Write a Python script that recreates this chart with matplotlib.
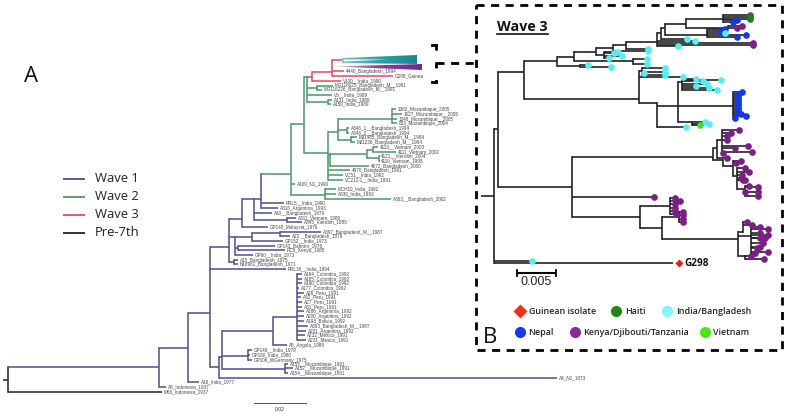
import numpy as np
import matplotlib
matplotlib.use("Agg")
import matplotlib.pyplot as plt
from matplotlib.colors import LinearSegmentedColormap
from matplotlib.patches import Polygon


def tip(x, y, label):
    return (x, y, label, [], None)


def node(x, y, kids, wave=None):
    return (x, y, None, kids, wave)


# ---------- Colours ----------
WAVE_COLOURS = {"w1": "#4b4f90", "w2": "#469a66", "w3": "#e8475c", "pre": "#222222"}
DOT_COLOURS = {"c": "#55eef5", "b": "#1238ea", "p": "#7b1f87", "l": "#45e016", "h": "#1f7d20"}

# ---------- Panel A : tips and clades (x = distance, y = leaf row) ----------
GREEN_TOP = node(307, 77, [
    node(312, 77, [
        node(332, 72, [
            tip(342, 60, None),
            tip(332, 67, None),
            tip(344, 71, "4440_Bangladesh_1994"),
            tip(393, 76, "G298_Guinea"),
        ], "w3"),
        tip(341, 81, "V100__India_1990"),
    ], "w3"),
    node(317, 88, [
        tip(333, 86, "MG116025_Bangladesh_M__1991"),
        tip(322, 90, "MG116226_Bangladesh_M__1991"),
    ]),
    tip(332, 95, "V5__India_1989"),
    node(328, 102, [
        tip(332, 100, "A131_India_1989"),
        tip(331, 104, "A150_India_1989"),
    ]),
])

MOZ_CLADE = node(392, 119, [
    tip(396, 109, "1362_Mozambique_2005"),
    tip(402, 114, "1627_Mozambique__2005"),
    tip(397, 119, "1348_Mozambique__2005"),
    tip(397, 123, "833_Mozambique_2004"),
])

GREEN_MID = node(327.5, 153, [
    node(338, 132, [
        MOZ_CLADE,
        node(347, 130, [
            tip(349, 128, "A346_1__Bangladesh_1994"),
            tip(349, 133, "A346_2__Bangladesh_1994"),
        ]),
        node(351, 140, [
            tip(357, 137, "MJ1485_Bangladesh_M__1994"),
            tip(355, 142, "MJ1236_Bangladesh_M__1994"),
        ]),
    ]),
    node(330, 155, [
        node(367, 154, [
            node(373, 150, [
                tip(378, 147, "4113__Vietnam_2003"),
                tip(396, 152, "4111_Vietnam_2002"),
            ]),
            node(379, 158, [
                tip(379.5, 156, "4121__Vietnam_2004"),
                tip(379.5, 161, "4110_Vietnam_1995"),
            ]),
        ]),
        tip(369, 166, "4672_Bangladesh_2000"),
    ]),
    tip(350, 170, "4970_Bangladesh_1991"),
    tip(343, 175, "VC51__India_1992"),
    tip(343, 180, "VC212-1__India_1991"),
])

WAVE2 = node(291, 174, [
    node(304, 124, [GREEN_TOP, GREEN_MID]),
    tip(295, 184, "A109_N1_1990"),
    node(325, 195, [
        tip(336, 189, "MCH10_India_1992"),
        tip(336, 194, "A330_India_1993"),
        tip(391, 199, "A363__Bangladesh_2002"),
    ]),
], "w2")

EARLY_ASIA = node(241.5, 219, [
    node(254, 199, [
        node(261, 199, [
            WAVE2,
            tip(284, 203, "PRL5__India_1990"),
            tip(278, 208, "A316_Argentina_1993"),
        ]),
        tip(272, 213, "A10__Bangladesh_1979"),
        node(287, 220, [
            tip(296, 218, "A311_Vietnam_1989"),
            tip(302, 222, "A345_Vietnam_1989"),
        ]),
    ]),
    tip(268, 227, "GP140_Malaysia_1976"),
])

SEVENTIES = node(235, 237, [
    node(252, 237, [
        node(280, 233, [
            tip(321, 232, "A397_Bangladesh_M__1987"),
            tip(290, 236, "A22__Bangladesh_1979"),
        ]),
        tip(283, 241, "GP152__India_1973"),
    ]),
    node(238, 248, [
        tip(275, 246, "GP143_Bahrain_1976"),
        tip(285, 250, "RC9_Kenya_1985"),
    ]),
    tip(253, 255, "GP60__India_1973"),
])

LATIN_TIPS = [
    (302, 274, "A194_Colombia_1992"), (302, 279, "A185_Colombia_1992"),
    (302, 283, "A190_Colombia_1992"), (299, 288, "A177_Colombia_1992"),
    (304, 293, "A26_Peru_1991"), (301, 297, "A32_Peru_1991"),
    (302, 302, "A27_Peru_1991"), (302, 307, "A31_Peru_1991"),
    (304, 311, "A186_Argentina_1992"), (304, 316, "A200_Argentina_1992"),
    (304, 321, "A193_Bolivia_1992"), (308, 326, "A393_Bangladesh_M__1987"),
    (306, 331, "A201_Argentina_1992"), (305, 335, "A232_Mexico_1991"),
    (306, 340, "A231_Mexico_1991"),
]

LOWER = node(222, 357, [
    node(273, 331, [
        node(297, 317, [tip(*t) for t in LATIN_TIPS]),
        tip(287, 345, "A5_Angola_1989"),
    ]),
    node(248, 356, [
        tip(252, 350, "GP149__India_1979"),
        tip(250, 355, "GP160_India_1980"),
        tip(252, 360, "GP106_WGermany_1975"),
    ]),
    node(285, 369, [
        tip(288, 364, "A155__Mozambique_1991"),
        tip(293, 368, "A152__Mozambique_1991"),
        tip(288, 373, "A154__Mozambique_1991"),
    ]),
])

WAVE1 = node(210, 313, [
    node(229, 247, [
        EARLY_ASIA,
        SEVENTIES,
        node(234, 262, [
            tip(238, 260, "A15_Bangladesh_1975"),
            tip(238, 264, "N16961_Bangladesh_1971"),
        ]),
    ]),
    tip(286, 269, "PRL16__India_1994"),
    node(219, 367, [
        LOWER,
        tip(557, 378, "A4_N1_1973"),
    ]),
], "w1")

TREE_A = node(8, 380, [
    node(159, 367, [
        node(187.5, 348, [
            WAVE1,
            tip(199, 382, "A16_India_1977"),
        ], "w1"),
        tip(166, 387, "A5_Indonesia_1937"),
    ], "w1"),
    tip(162, 392, "M66_Indonesia_1937"),
], "pre")

LEGEND_LABELS = ["Wave 1", "Wave 2", "Wave 3", "Pre-7th"]
LEGEND_KEYS = ["w1", "w2", "w3", "pre"]
LEGEND_ROWS = [179, 197, 215, 233]

# collapsed clades
TEAL_WEDGE = [(342, 58), (417, 55), (417, 64), (342, 63)]
TEAL_HOLLOW = [(343.5, 59.5), (388, 59.5), (343.5, 61.5)]
PURPLE_WEDGE = [(333, 66.5), (422, 64), (422, 70)]

# ---------- Panel B clades ----------
TOP_B = node(657, 42, [
    node(661, 33, [
        node(665, 28, [
            node(682, 24, [
                node(686, 24, [
                    node(723, 19, [
                        tip(750, 17, "h"),
                        tip(750, 15, "h"),
                        tip(750, 19, "h"),
                        tip(737, 20, "b"),
                        tip(733, 22, "b"),
                    ]),
                    node(728, 28, [tip(742, 26, "p"), tip(737, 28, "p")]),
                ]),
            ]),
            node(707, 35, [
                tip(720, 31, "b"), tip(725, 29, "b"), tip(725, 33, "c"),
                tip(737, 37, "b"), tip(746, 35, "b"),
            ]),
        ]),
        tip(687, 39, "c"),
    ]),
    tip(695, 41, "c"),
    tip(753, 43, "p"),
    tip(753, 45, "p"),
    tip(678, 46, "c"),
])

CYAN_STEP = node(596, 52, [
    node(613, 48, [
        node(626, 45, [TOP_B, tip(648, 49, "c")]),
        tip(648, 51, "c"),
    ]),
    node(604, 55, [tip(609, 58, "c"), tip(614, 53, "c"),
                   tip(618, 52, "c"), tip(622, 56, "c")]),
])

BLUE_ROWS = [92, 94, 96, 98, 100, 102, 104, 106, 108, 110, 112, 114, 116, 118]
BLUE_X = [742, 738, 738, 738, 738, 738, 738, 738, 738, 738, 738, 741, 746, 735]

MID_B = node(678, 106, [
    node(682, 82, [
        tip(696, 79, "c"), tip(703, 81, "c"), tip(707, 84, "c"),
        tip(709, 88, "c"), tip(721, 80, "c"), tip(717, 90, "c"),
        tip(696, 86, "c"),
    ]),
    node(733, 106, [tip(bx, by, "b") for bx, by in zip(BLUE_X, BLUE_ROWS)]),
    node(692, 122, [tip(705, 122, "c"), tip(709, 124, "c"), tip(700, 125, "l")]),
])

CYAN_B = node(639, 99, [
    node(642, 71, [tip(644, 73, "c"), tip(665, 68, "c"), tip(665, 72, "c"), tip(665, 75, "c")]),
    tip(683, 77, "c"),
    node(657, 103, [MID_B, tip(686, 127, "c")]),
])

CLADE_A_UPPER = node(717, 148, [
    node(722, 140, [
        tip(739, 130, "p"), tip(731, 133, "p"), tip(727, 136, "p"), tip(727, 140, "p"),
        tip(748, 146, "p"), tip(735, 148, "p"), tip(752, 152, "p"), tip(723, 153, "p"),
    ]),
    tip(727, 158, "p"),
])

CLADE_A_LOWER = node(723, 160, [
    node(733, 166, [
        tip(741, 161, "p"), tip(736, 163, "p"),
        node(737, 176, [
            tip(745, 168, "p"), tip(749, 172, "p"), tip(742, 175, "p"),
            tip(743, 180, "p"), tip(741, 178, "p"), tip(745, 180, "p"),
            node(745, 189, [tip(758, 187, "p"), tip(758, 192, "p"),
                            tip(758, 196, "p"), tip(745, 192, "p"), tip(749, 186, "p")]),
        ]),
    ]),
])

CLADE_B = node(670, 206, [
    tip(675, 198, "p"), tip(680, 201, "p"), tip(675, 204, "p"), tip(675, 208, "p"),
    tip(675, 211, "p"), tip(676, 214, "p"),
])

CLADE_C = node(738, 239, [
    node(743, 232, [tip(747, 222, "p"), tip(752, 225, "p")]),
    node(751, 236, [
        tip(760, 227, "p"), tip(768, 229, "p"), tip(760, 233, "p"), tip(768, 235, "p"),
        tip(760, 238, "p"), tip(765, 238, "p"), tip(763, 243, "p"), tip(760, 247, "p"),
        tip(757, 248, "p"), tip(755, 253, "p"), tip(768, 252, "p"),
    ]),
    node(745, 256, [tip(751, 256, "p"), tip(764, 259, "p")]),
])

TREE_B = node(493.5, 196, [
    node(497.5, 129, [
        node(524, 72, [
            node(557, 61, [
                node(574, 57, [CYAN_STEP, node(633, 61, [tip(647, 59, "c"), tip(647, 64, "c")])]),
                node(580, 66, [tip(588, 65, "c"), tip(611, 67, "c")]),
            ]),
            CYAN_B,
        ]),
        node(572, 187, [
            node(713, 157, [CLADE_A_UPPER, CLADE_A_LOWER]),
            tip(654, 197, "p"),
            node(640, 217, [
                CLADE_B,
                node(662, 228, [
                    node(679, 217, [tip(683, 212, "p"), tip(683, 215, "p"),
                                    tip(683, 219, "p"), tip(683, 222, "p")]),
                    CLADE_C,
                ]),
            ]),
        ]),
    ]),
    tip(532, 261, "c"),
    tip(673, 263, None),
], "pre")

LEGEND_B_TEXT = ["Guinean isolate", "Haiti", "India/Bangladesh", "Nepal", "Kenya/Djibouti/Tanzania", "Vietnam"]
LEGEND_B_COL = ["#f03010", "#1e8a12", "#7ff6fb", "#0a3cf5", "#8a2a96", "#44e814"]
LEGEND_B_X = [520, 616, 667, 520, 575, 705]
LEGEND_B_TX = [529, 625, 676, 528, 583, 713]
LEGEND_B_Y = [311, 311, 311, 332, 332, 332]

# ---------- Drawing ----------
fig = plt.figure(figsize=(7.87, 4.15), dpi=100)
ax = fig.add_axes([0, 0, 1, 1])
ax.set_xlim(0, 787)
ax.set_ylim(415, 0)
ax.axis("off")


def draw(n, px, colour, lw, labels):
    x, y, label, kids, wave = n
    col = WAVE_COLOURS[wave] if wave else colour
    ax.plot([px, x], [y, y], color=col, lw=lw, solid_capstyle="butt", zorder=2)
    if kids:
        ys = [k[1] for k in kids] + [y]
        ax.plot([x, x], [min(ys), max(ys)], color=col, lw=lw, solid_capstyle="projecting", zorder=2)
    for k in kids:
        draw(k, x, col, lw, labels)
    if label and labels == "text":
        ax.text(x + 1.5, y, label, fontsize=3.35, family="Liberation Sans", color="#444444",
                va="center", ha="left", zorder=3)
    if label and labels == "dots":
        ax.plot([x], [y], "o", ms=4.8, mec="none", color=DOT_COLOURS[label], zorder=4)


# Panel A tree
draw(TREE_A, 3, WAVE_COLOURS["pre"], 1.1, "text")


def wedge(points, colours):
    cmap = LinearSegmentedColormap.from_list("w", colours)
    xs, ys = zip(*points)
    im = ax.imshow(np.linspace(0, 1, 64).reshape(1, -1), extent=(min(xs), max(xs), max(ys), min(ys)),
                   cmap=cmap, aspect="auto", zorder=3)
    patch = Polygon(points, closed=True, fc="none", ec="none", transform=ax.transData)
    ax.add_patch(patch)
    im.set_clip_path(patch)


wedge(TEAL_WEDGE, ["#7cc4c4", "#2f9fa5", "#17888f"])
ax.add_patch(Polygon(TEAL_HOLLOW, closed=True, fc="white", ec="none", zorder=3.5))
wedge(PURPLE_WEDGE, ["#d9c3e0", "#8b3fa0", "#6f2a90"])
ax.set_xlim(0, 787)
ax.set_ylim(415, 0)

for lab, key, row in zip(LEGEND_LABELS, LEGEND_KEYS, LEGEND_ROWS):
    ax.plot([63, 85], [row, row], color=WAVE_COLOURS[key], lw=1.3, solid_capstyle="butt")
    ax.text(95, row - 1, lab, fontsize=9.4, family="Open Sans", color="#222222", va="center", ha="left")

ax.text(24, 82, "A", fontsize=16, family="Open Sans", color="#111111", va="baseline", ha="left")
ax.text(483, 343, "B", fontsize=16, family="Open Sans", color="#111111", va="baseline", ha="left")

ax.plot([254, 306], [403, 403], color="#555555", lw=0.7)
ax.text(280, 409.5, "0.02", fontsize=3.6, family="Liberation Sans", color="#333333", ha="center", va="center")

# Dashed box and connector
DASH = (0, (2.9, 2.35))
ax.plot([476, 782, 782, 476, 476], [5, 5, 350, 350, 5], color="black", lw=2.0, ls=DASH,
        dash_capstyle="butt", zorder=5)
ax.plot([436, 436], [44, 83], color="black", lw=2.0, ls=(0, (2.2, 4.2)), zorder=5)
ax.plot([432, 436], [45, 45], color="black", lw=2.0, zorder=5)
ax.plot([432, 436], [82, 82], color="black", lw=2.0, zorder=5)
ax.plot([436, 476], [63, 63], color="black", lw=2.0, ls=DASH, dash_capstyle="butt", zorder=5)

# Panel B tree
draw(TREE_B, 481, WAVE_COLOURS["pre"], 1.2, "dots")
ax.plot([679], [263], "D", ms=3.8, color="#e81c10", mec="none", zorder=5)
ax.text(684, 263, "G298", fontsize=7.2, family="Open Sans", weight="bold", color="#111111", va="center", ha="left")

ax.text(497, 27, "Wave 3", fontsize=10.3, family="Open Sans", weight="bold", color="#111111", va="center", ha="left")
ax.plot([497, 548], [34.5, 34.5], color="#111111", lw=1.2)

ax.plot([517, 556], [273, 273], color="black", lw=1.5, solid_capstyle="butt")
ax.plot([517, 517], [270, 276], color="black", lw=1.3)
ax.plot([556, 556], [270, 276], color="black", lw=1.3)
ax.text(536.5, 282, "0.005", fontsize=9, family="Liberation Sans", color="#222222", ha="center", va="center")

for txt, col, mx, tx, my in zip(LEGEND_B_TEXT, LEGEND_B_COL, LEGEND_B_X, LEGEND_B_TX, LEGEND_B_Y):
    marker = "D" if txt == "Guinean isolate" else "o"
    ax.plot([mx], [my], marker, ms=7.2 if marker == "D" else 8, color=col, mec="none", zorder=4)
    ax.text(tx, my, txt, fontsize=6.4, family="Open Sans", weight="semibold", color="#222222",
            va="center", ha="left")

fig.savefig("out.png", dpi=100)
